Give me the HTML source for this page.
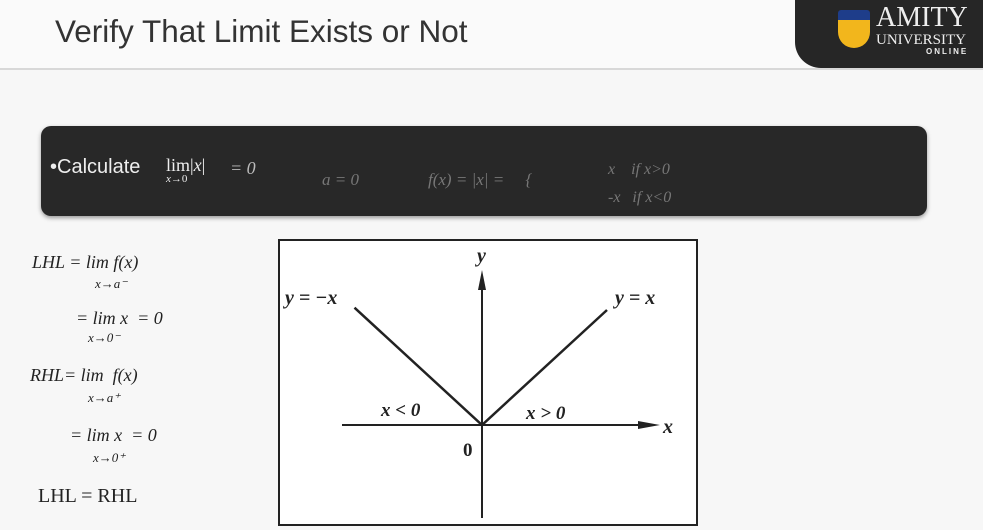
<!DOCTYPE html>
<html><head><meta charset="utf-8"><style>
body{margin:0;width:983px;height:530px;overflow:hidden;background:#f7f7f7;font-family:"Liberation Sans",sans-serif;position:relative}
.abs{position:absolute}
.hw{position:absolute;font-family:"Liberation Serif",serif;font-style:italic;color:#222;white-space:nowrap}
</style></head><body>
<div class="abs" style="left:0;top:0;width:983px;height:68px;background:#fafafa;border-bottom:2px solid #d8d8d8"></div>
<div class="abs" style="left:55px;top:13px;font-size:31.5px;color:#333">Verify That Limit Exists or Not</div>
<div class="abs" style="left:795px;top:0;width:200px;height:68px;background:#262626;border-bottom-left-radius:26px"></div>
<div class="abs" style="left:838px;top:10px;width:32px;height:38px;background:#f2b61c;border-radius:3px 3px 16px 16px;border-top:10px solid #1e3d8a;box-sizing:border-box"></div>
<div class="abs" style="left:876px;top:4px;color:#eee;font-family:'Liberation Serif',serif;line-height:1">
<div style="font-size:28px">AMITY</div><div style="font-size:15px;margin-top:1px">UNIVERSITY</div><div style="font-size:8px;letter-spacing:2px;margin-left:50px;font-family:'Liberation Sans';font-weight:bold">ONLINE</div></div>
<div class="abs" style="left:41px;top:126px;width:886px;height:90px;background:#282828;border-radius:10px;box-shadow:0 2px 4px #999"></div>
<div class="abs" style="left:50px;top:156px;font-size:20px;color:#eee">•Calculate</div>
<div class="abs" style="left:166px;top:155px;color:#eee;font-family:'Liberation Serif',serif;font-size:18px">lim|<i>x</i>|<div style="font-size:11px;margin-top:-3px"><i>x</i>→0</div></div>
<div class="hw" style="left:230px;top:158px;font-size:18px;color:#bbb">= 0</div>
<div class="hw" style="left:322px;top:170px;font-size:17px;color:#777">a = 0</div>
<div class="hw" style="left:428px;top:170px;font-size:17px;color:#777">f(x) = |x| = &nbsp;&nbsp;&nbsp;&nbsp;{</div>
<div class="hw" style="left:608px;top:156px;font-size:16px;color:#777;line-height:28px">x &nbsp;&nbsp;&nbsp;if x&gt;0<br>-x &nbsp;&nbsp;if x&lt;0</div>
<div class="hw" style="left:32px;top:252px;font-size:18px">LHL = lim f(x)</div>
<div class="hw" style="left:95px;top:276px;font-size:13px">x→a⁻</div>
<div class="hw" style="left:76px;top:308px;font-size:18px">= lim x &nbsp;= 0</div>
<div class="hw" style="left:88px;top:330px;font-size:13px">x→0⁻</div>
<div class="hw" style="left:30px;top:365px;font-size:18px">RHL= lim &nbsp;f(x)</div>
<div class="hw" style="left:88px;top:390px;font-size:13px">x→a⁺</div>
<div class="hw" style="left:70px;top:425px;font-size:18px">= lim x &nbsp;= 0</div>
<div class="hw" style="left:93px;top:450px;font-size:13px">x→0⁺</div>
<div class="hw" style="left:38px;top:485px;font-size:20px;font-style:normal">LHL = RHL</div>
<svg class="abs" style="left:0;top:0" width="983" height="530">
<rect x="279" y="240" width="418" height="285" fill="#fff" stroke="#222" stroke-width="2"/>
<g id="plot"></g>
</svg>
<script>
const xs=[-1.02,0,1];
const ys=[1.02,0,1];
const labels=["y = −x","y = x"];
const ox=482,oy=425,sx=125,sy=115;
const X=v=>ox+v*sx, Y=v=>oy-v*sy;
const g=document.getElementById('plot');
const NS='http://www.w3.org/2000/svg';
function mk(t,a){const e=document.createElementNS(NS,t);for(const k in a)e.setAttribute(k,a[k]);g.appendChild(e);return e;}
let e=mk('line',{x1:342,y1:oy,x2:650,y2:oy,stroke:'#222','stroke-width':2});


e=mk('polygon',{points:`660,${oy} 638,${oy-4} 638,${oy+4}`,fill:'#222'});


e=mk('line',{x1:ox,y1:518,x2:ox,y2:285,stroke:'#222','stroke-width':2});


e=mk('polygon',{points:`${ox},270 ${ox-4},290 ${ox+4},290`,fill:'#222'});


e=mk('polyline',{points:xs.map((v,i)=>X(v)+','+Y(ys[i])).join(' '),fill:'none',stroke:'#222','stroke-width':2.5});


function txt(s,x,y,sz,name,w){const t=mk('text',{x:x,y:y,'font-size':sz,'font-family':'Liberation Serif, serif','font-style':'italic','font-weight':w||'bold',fill:'#222'});t.textContent=s;return t;}
txt(labels[0],285,304,20,'label-y-neg-x');
txt(labels[1],615,304,20,'label-y-x');
txt('y',477,262,20,'y-axis-title');
txt('x',663,433,20,'x-axis-title');
txt('x < 0',381,416,19,'label-x-neg');
txt('x > 0',526,419,19,'label-x-pos');
const z=txt('0',463,456,19,'origin-label');z.setAttribute('font-style','normal');
</script>
</body></html>
